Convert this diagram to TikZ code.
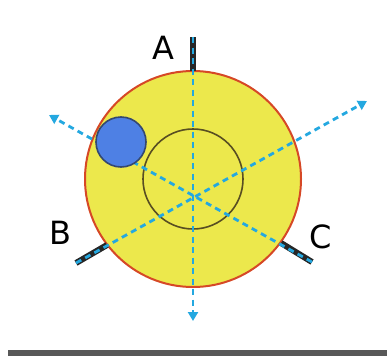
\documentclass[tikz,border=0pt]{standalone}
\usepackage{fontspec}
\setmainfont{DejaVu Sans}
\usepackage{xcolor}
\usetikzlibrary{positioning,arrows.meta}

\definecolor{discyellow}{RGB}{236,232,76}
\definecolor{discred}{RGB}{214,72,38}
\definecolor{spotblue}{RGB}{78,128,228}
\definecolor{spotedge}{RGB}{52,72,112}
\definecolor{hubolive}{RGB}{88,78,34}
\definecolor{raycyan}{RGB}{36,168,224}
\definecolor{barGray}{RGB}{88,88,88}

\begin{document}
\begin{tikzpicture}[
    x=1pt, y=-1pt,
    disc/.style={
        circle,
        draw=discred,
        fill=discyellow,
        line width=2pt,
        minimum size=216pt,
        inner sep=0pt
    },
    hub/.style={
        circle,
        draw=hubolive,
        line width=1.6pt,
        minimum size=100pt,
        inner sep=0pt
    },
    spot/.style={
        circle,
        draw=spotedge,
        fill=spotblue,
        line width=1.6pt,
        minimum size=50pt,
        inner sep=0pt
    },
    stick/.style={
        line width=6pt,
        draw=black!85
    },
    ray/.style={
        draw=raycyan,
        line width=2.8pt,
        dash pattern=on 6pt off 4.5pt,
        -{Triangle[length=9pt,width=10pt]}
    },
    tag/.style={
        font=\fontsize{32}{32}\selectfont,
        inner sep=0pt
    }
]

\useasboundingbox (0,0) rectangle (387,356);
\fill[barGray] (8,350) rectangle (387,356);

\node[disc] (disc) at (193,179) {};
\node[hub] (hub) at (193,179) {};

% sticks and ray ends
\coordinate (a1) at (193,37);
\coordinate (a2) at (193,71);
\coordinate (b1) at (76,263);
\coordinate (b2) at (107,245);
\coordinate (c1) at (312,262);
\coordinate (c2) at (281,243);
\coordinate (downtip) at (193,321);
\coordinate (righttip) at (367,101);
\coordinate (lefttip) at (49,115);

\draw[stick] (a1) -- (a2);
\draw[stick] (b1) -- (b2);
\draw[stick] (c1) -- (c2);

\draw[ray] (a1) -- (downtip);
\draw[ray] (b1) -- (righttip);
\draw[ray] (c1) -- (lefttip);

\node[spot] (spot) at (121,142) {};

\node[tag] (labA) at (163,48) {A};
\node[tag] (labB) at (60,233) {B};
\node[tag] (labC) at (321,237) {C};

\end{tikzpicture}
\end{document}
